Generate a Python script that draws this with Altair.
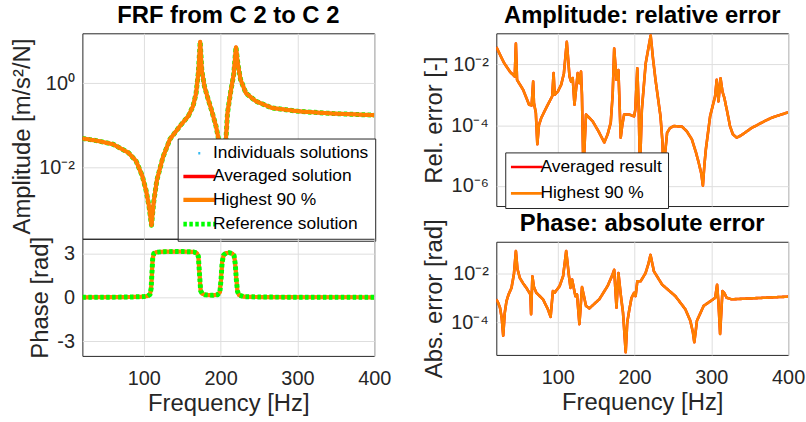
import altair as alt
import pandas as pd

# ---------------- data ----------------
# FRF amplitude (log10 of m/s^2/N) vs frequency
amp_f = [20, 40, 60, 80, 90, 98, 103, 107, 110, 113, 117, 125, 134, 147, 158, 164, 168, 171,
         173.4, 175.5, 179, 184, 188, 194, 198, 201, 203, 205, 207, 209, 213.5, 217, 220,
         222.5, 226, 233, 246, 267, 302, 344, 400]
amp_exp = [-1.31, -1.37, -1.45, -1.65, -1.85, -2.2, -2.55, -2.95, -3.37, -2.8, -2.3, -1.75,
           -1.33, -1.02, -0.78, -0.55, -0.25, 0.25, 0.98, 0.3, -0.08, -0.4, -0.63, -1.02,
           -1.4, -1.9, -2.3, -1.7, -1.31, -0.70, -0.16, 0.2, 0.85, 0.45, 0.08, -0.24, -0.43,
           -0.59, -0.67, -0.72, -0.76]

# FRF phase (rad)
ph_f = [20, 50, 80, 100, 105, 108, 109.5, 110.5, 111.5, 113, 116, 125, 150, 165, 169, 171,
        172.5, 174, 176, 180, 190, 196, 199, 200.5, 202, 204, 207, 211, 215, 217.5, 219,
        220.5, 222, 224, 230, 250, 300, 350, 400]
ph_val = [0.0, 0.01, 0.02, 0.05, 0.09, 0.2, 0.6, 1.6, 2.6, 3.0, 3.08, 3.12, 3.13, 3.1, 3.02,
          2.8, 1.6, 0.45, 0.25, 0.17, 0.14, 0.18, 0.35, 1.2, 2.4, 2.9, 3.02, 3.05, 3.0, 2.85,
          2.3, 1.2, 0.4, 0.15, 0.05, 0.02, 0.01, 0.01, 0.0]

# Amplitude relative error (log10)
rel_f = [20, 30, 38, 44, 45.5, 47, 55, 62.7, 66, 68, 69, 71.5, 73.4, 75.5, 78.6, 85, 92.8,
         94.6, 96, 100, 104.5, 108, 111.8, 115.3, 117.4, 119.5, 121.8, 126, 128, 130.3, 131.5,
         133.4, 136.8, 145.4, 153, 160.6, 165, 169, 171.5, 173.5, 176.5, 179, 182, 184, 186.4,
         193, 199.4, 201, 203.6, 205.5, 207, 209.5, 214.5, 221, 224, 227.3, 230.5, 233.8,
         236.5, 238, 239.5, 242.4, 246, 251, 261.8, 268, 274.7, 280, 283.4, 287, 289, 291,
         292.9, 298.4, 304.9, 307, 309.3, 312, 314.5, 317, 321, 324.3, 328, 333, 338, 343.7,
         352, 361, 370, 378.2, 390, 400]
rel_exp = [-1.43, -1.95, -2.25, -2.40, -1.32, -2.51, -2.84, -3.33, -3.35, -2.57, -3.27, -3.6,
           -4.63, -4.0, -3.76, -3.43, -3.05, -2.29, -3.0, -2.9, -2.67, -2.3, -1.26, -2.40,
           -2.57, -2.45, -3.33, -2.29, -2.62, -2.24, -3.0, -5.5, -3.65, -3.87, -4.2, -4.57,
           -4.3, -3.92, -3.0, -1.48, -2.51, -2.19, -4.41, -4.0, -3.65, -3.65, -3.71, -3.5,
           -2.13, -3.5, -5.5, -3.5, -1.97, -1.05, -1.8, -2.51, -3.1, -3.71, -4.6, -7.0, -5.0,
           -4.25, -4.1, -4.03, -4.05, -4.2, -4.47, -4.9, -5.22, -5.6, -5.99, -5.3, -4.79,
           -3.71, -3.05, -2.51, -3.22, -2.46, -2.9, -3.11, -3.6, -4.03, -4.3, -4.41, -4.35,
           -4.25, -4.1, -3.98, -3.86, -3.76, -3.66, -3.58]

# Phase absolute error (log10 rad)
abs_f = [20, 22.5, 24.8, 27, 29, 31, 33.3, 36, 39.8, 43, 45.5, 47.5, 50.6, 55, 59.2, 64.4,
         65.3, 67, 69, 72.1, 80.8, 87.2, 90.7, 93.7, 95.9, 102.4, 107, 111, 114.4, 116.6,
         118.7, 123, 125.1, 128.2, 131.6, 136.8, 141.2, 154.1, 165, 171.3, 173.5, 176.5, 179,
         182, 185, 188.5, 190.5, 192.9, 196, 199.4, 201.4, 203.6, 207.9, 211, 214.4, 218,
         220.8, 225.2, 236, 253.2, 266.2, 272.6, 276, 277.8, 279.5, 281.2, 290, 305, 307.5,
         309.3, 311.4, 314.5, 317, 320, 326.5, 360, 400]
abs_exp = [-3.05, -3.2, -3.39, -3.8, -4.54, -3.6, -3.12, -2.85, -2.58, -2.0, -1.07, -1.8,
           -2.17, -2.4, -2.58, -2.85, -3.66, -2.11, -2.55, -2.78, -3.05, -3.46, -3.77, -2.71,
           -2.78, -2.51, -2.1, -1.07, -2.04, -2.58, -2.24, -2.92, -2.85, -4.07, -2.55, -3.32,
           -3.42, -3.05, -2.5, -2.04, -1.84, -3.39, -1.97, -2.85, -3.6, -5.22, -4.0, -3.53,
           -3.0, -2.78, -2.92, -2.31, -2.31, -2.15, -1.97, -1.6, -1.23, -1.90, -2.45, -2.92,
           -3.46, -3.93, -4.4, -4.81, -4.4, -3.93, -3.32, -2.99, -2.45, -3.19, -4.47, -2.71,
           -2.8, -2.99, -3.05, -3.0, -2.94]

left_series = ["Individuals solutions", "Averaged solution", "Highest 90 %", "Reference solution"]
left_colors = ["#35b9f0", "#ff0000", "#ff8000", "#00ff00"]
left_widths = [2.5, 5, 2.5, 4]
left_dashes = [[0, 15, 2, 60], [1, 0], [1, 0], [3.5, 2.5]]

right_series = ["Averaged result", "Highest 90 %"]
right_colors = ["#ff0000", "#ff8000"]
right_widths = [2.6, 2.6]
right_dashes = [[1, 0], [1, 0]]

FONT = "Liberation Sans"
INK = "#262626"
LEG_SYMBOL = "M-3.2,0H3.2"


def long_table(freqs, values, series, log=False):
    rows = []
    for s in series:
        for f, v in zip(freqs, values):
            rows.append({"f": f, "v": (10 ** v) if log else v, "series": s})
    return pd.DataFrame(rows)


amp_df = long_table(amp_f, amp_exp, left_series, log=True)
ph_df = long_table(ph_f, ph_val, left_series)
rel_df = long_table(rel_f, rel_exp, right_series, log=True)
abs_df = long_table(abs_f, abs_exp, right_series, log=True)

SUP = ("datum.value > 0.5 ? '10⁰' : datum.value > 1e-3 ? '10⁻²' : "
       "datum.value > 1e-5 ? '10⁻⁴' : '10⁻⁶'")


def panel(df, series, colors, widths, dashes, order, y_scale, y_values, y_label_expr,
          y_title, w, h, bottom, legend, title=None, title_dy=0):
    x_axis = alt.Axis(values=[100, 200, 300, 400], grid=True, ticks=False, domain=False,
                      labels=bottom, labelFlush=False,
                      title="Frequency [Hz]" if bottom else None,
                      labelPadding=13, titlePadding=3)
    y_axis = alt.Axis(values=y_values, grid=True, ticks=False, domain=False, labelFlush=False,
                      labelExpr=y_label_expr, title=y_title, labelPadding=8)
    layers = []
    for s in order:
        enc = dict(
            x=alt.X("f:Q", scale=alt.Scale(domain=[20, 400], nice=False, zero=False), axis=x_axis),
            y=alt.Y("v:Q", scale=y_scale, axis=y_axis),
            color=alt.Color("series:N", scale=alt.Scale(domain=series, range=colors), legend=legend),
            strokeWidth=alt.StrokeWidth("series:N", scale=alt.Scale(domain=series, range=widths), legend=legend),
            strokeDash=alt.StrokeDash("series:N", scale=alt.Scale(domain=series, range=dashes), legend=legend),
        )
        layers.append(
            alt.Chart(df).transform_filter(alt.datum.series == s)
            .mark_line(clip=True, strokeJoin="round").encode(**enc)
        )
    props = dict(width=w, height=h)
    if title is not None:
        props["title"] = alt.TitleParams(title, fontSize=24, fontWeight="bold", font=FONT,
                                         color="black", anchor="middle", offset=5, frame="group",
                                         dy=title_dy)
    return alt.layer(*layers).properties(**props)


def make_legend(x, y, row_pad):
    return alt.Legend(title=None, orient="none", legendX=x, legendY=y,
                      fillColor="white", strokeColor=INK, padding=6,
                      labelFontSize=17.5, labelFont=FONT, labelColor="black",
                      symbolType=LEG_SYMBOL, symbolSize=100, symbolOffset=7,
                      labelOffset=5, rowPadding=row_pad, labelLimit=400)


amp = panel(amp_df, left_series, left_colors, left_widths, left_dashes,
            ["Individuals solutions", "Reference solution", "Averaged solution", "Highest 90 %"],
            alt.Scale(type="log", domain=[10 ** -3.69, 10 ** 1.18], nice=False),
            [1, 0.01], SUP, "Amplitude [m/s²/N]", 294, 207, False, make_legend(96, 106, 4.5),
            title="FRF from C 2 to C 2")
phase = panel(ph_df, left_series, left_colors, left_widths, left_dashes,
              ["Individuals solutions", "Averaged solution", "Highest 90 %", "Reference solution"],
              alt.Scale(domain=[-4, 4], nice=False, zero=False),
              [-3, 0, 3], "datum.value < 0 ? '-' + abs(datum.value) : '' + datum.value",
              "Phase [rad]", 294, 118, True, None)
rel = panel(rel_df, right_series, right_colors, right_widths, right_dashes,
            ["Averaged result", "Highest 90 %"],
            alt.Scale(type="log", domain=[10 ** -6.66, 10 ** -0.98], nice=False),
            [0.01, 1e-4, 1e-6], SUP, "Rel. error [-]", 294, 174, False, make_legend(9, 120, 7.5),
            title="Amplitude: relative error")
abse = panel(abs_df, right_series, right_colors, right_widths, right_dashes,
             ["Averaged result", "Highest 90 %"],
             alt.Scale(type="log", domain=[10 ** -5.33, 10 ** -0.69], nice=False),
             [0.01, 1e-4], SUP, "Abs. error [rad]", 294, 114, True, None,
             title="Phase: absolute error", title_dy=22)

ind = dict(color="independent", strokeWidth="independent", strokeDash="independent")
left = alt.vconcat(amp, phase, spacing=0, bounds="flush").resolve_scale(**ind).resolve_legend(**ind)
right = alt.vconcat(rel, abse, spacing=36, bounds="flush").resolve_scale(**ind).resolve_legend(**ind)

chart = (
    alt.hconcat(left, right, spacing=30)
    .resolve_scale(**ind).resolve_legend(**ind)
    .properties(padding={"left": 10, "top": 2, "right": 0, "bottom": 0}, background="white")
    .configure_view(stroke=INK, strokeWidth=1)
    .configure_axis(labelFont=FONT, labelFontSize=20, labelColor=INK,
                    titleFont=FONT, titleFontSize=24, titleFontWeight="normal", titleColor=INK,
                    gridColor="#dedede", gridWidth=1)
)

chart.save("out.html", embed_options={"renderer": "svg", "actions": False})
